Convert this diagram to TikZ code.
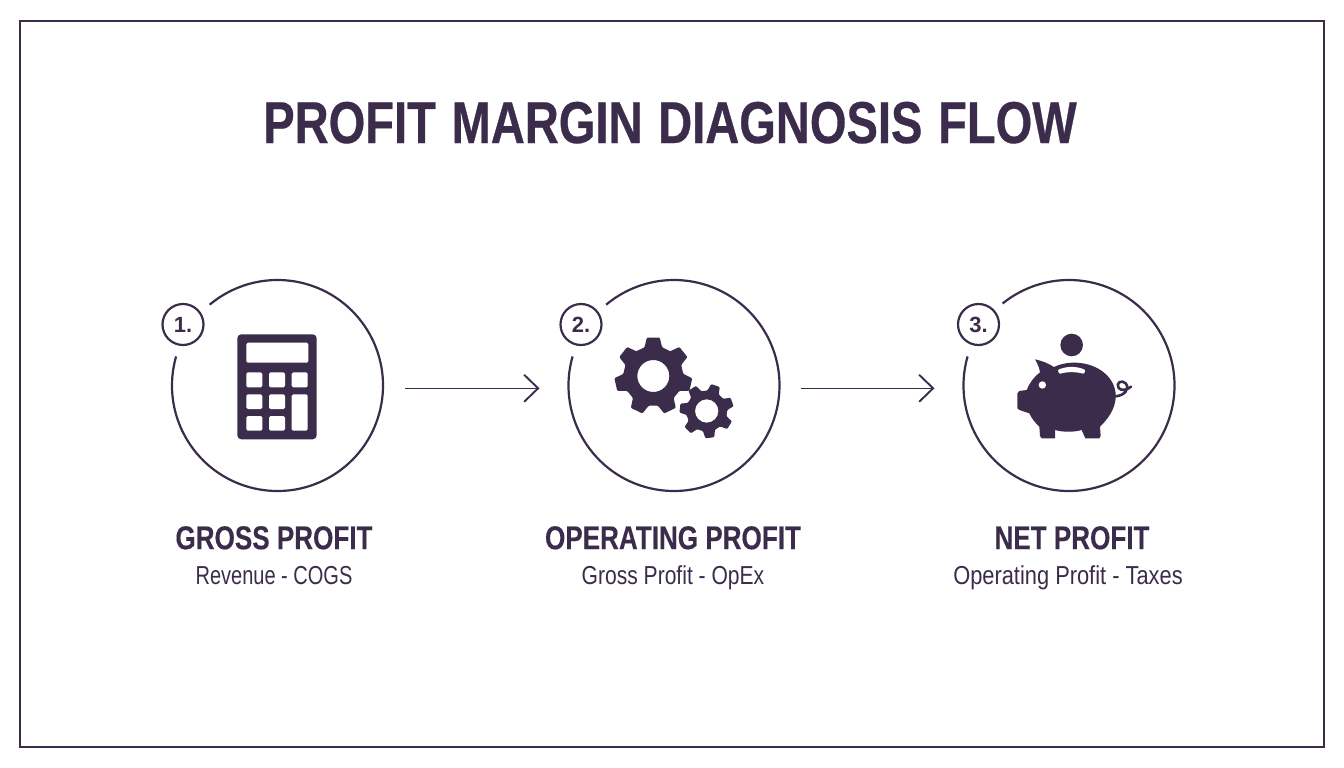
\documentclass[tikz,border=0pt]{standalone}
\usepackage{fontspec}
\setmainfont{Liberation Sans}
\newfontfamily\titleface[FakeStretch=0.798, FakeBold=0.5, WordSpace=1.2]{Liberation Sans Bold}
\newfontfamily\boldface[FakeStretch=0.79, FakeBold=0.2]{Liberation Sans Bold}
\newfontfamily\numberface{Liberation Sans Bold}
\newfontfamily\plainface[FakeStretch=0.77]{Liberation Sans}
\newfontfamily\plainwideface[FakeStretch=0.81]{Liberation Sans}
\newfontfamily\plainwiderface[FakeStretch=0.84]{Liberation Sans}
\usetikzlibrary{arrows.meta, positioning}

\definecolor{ink}{HTML}{3A2C4A}

\tikzset{
  ringnode/.style={circle, minimum size=211pt, inner sep=0pt, outer sep=0pt},
  ringline/.style={draw=ink, line width=2.2pt},
  badge/.style={draw=ink, line width=2.2pt, circle, minimum size=41pt, inner sep=0pt, text=ink,
                font=\numberface\fontsize{22}{22}\selectfont},
  headline/.style={text=ink, inner sep=0pt, text height=24pt, text depth=0pt,
                   font=\boldface\fontsize{33}{33}\selectfont},
  subline/.style={text=ink, inner sep=0pt, text height=19pt, text depth=5pt},
  flow/.style={draw=ink, line width=1.5pt, -{Straight Barb[length=14pt, width=27pt, line width=1.9pt]}},
  key/.style={fill=white, rounded corners=1.5pt},
}

\newcommand{\gearicon}[6]{%
  \begin{scope}[shift={(#1,#2)}]
    \fill [ink, even odd rule, rounded corners=1pt] (#6-17:#4pt)
      \foreach \k in {0,...,6} {
        -- (#6+\k*51.43-17:#4pt) -- (#6+\k*51.43-9.5:#3pt) -- (#6+\k*51.43+9.5:#3pt) -- (#6+\k*51.43+17:#4pt)
      } -- cycle (0,0) circle [radius=#5pt];
  \end{scope}
}

\begin{document}
\begin{tikzpicture}[x=1pt, y=-1pt]

\useasboundingbox (0,0) rectangle (1344,768);
\draw [draw=ink, line width=2.2pt] (20,21) rectangle (1324,747);

\node [anchor=base, text=ink, inner sep=0pt, font=\titleface\fontsize{59}{59}\selectfont] (title) at (670,143) {PROFIT MARGIN DIAGNOSIS FLOW};

\node [ringnode] (ring1) at (277.5,385.5) {};
\node [ringnode] (ring2) at (674,385.5) {};
\node [ringnode] (ring3) at (1069,385.5) {};

\draw [ringline] (ring1.164) arc [start angle=164, end angle=490, radius=105.5pt];
\draw [ringline] (ring2.164) arc [start angle=164, end angle=490, radius=105.5pt];
\draw [ringline] (ring3.164) arc [start angle=164, end angle=489, radius=105.5pt];

\node [badge] (badge1) at (183,324.5) {1.};
\node [badge] (badge2) at (581,324.5) {2.};
\node [badge] (badge3) at (978.5,324.5) {3.};

\draw [flow, shorten <=22pt, shorten >=29pt] ([yshift=-2.8pt]ring1.east) -- ([yshift=-2.8pt]ring2.west);
\draw [flow, shorten <=21pt, shorten >=29pt] ([yshift=-2.8pt]ring2.east) -- ([yshift=-2.8pt]ring3.west);

\node [headline, below=34pt of ring1, xshift=-3.5pt] (gross) {GROSS PROFIT};
\node [subline, below=16pt of gross, font=\plainface\fontsize{26}{26}\selectfont] (grosssub) {Revenue - COGS};
\node [headline, below=34pt of ring2, xshift=-1pt] (operating) {OPERATING PROFIT};
\node [subline, below=16pt of operating, font=\plainwideface\fontsize{26}{26}\selectfont] (operatingsub) {Gross Profit - OpEx};
\node [headline, below=34pt of ring3, xshift=3pt] (net) {NET PROFIT};
\node [subline, below=16pt of net, xshift=-4pt, font=\plainwiderface\fontsize{26}{26}\selectfont] (netsub) {Operating Profit - Taxes};

% calculator
\fill [ink, rounded corners=4pt] (237.3,334.3) rectangle (316.7,439.3);
\fill [key] (246.3,342.7) rectangle (308.3,362.7);
\fill [key] (246.3,372.3) rectangle (262.3,387.3);
\fill [key] (269,372.3) rectangle (285,387.3);
\fill [key] (291.7,372.3) rectangle (307.7,387.3);
\fill [key] (246.3,394.3) rectangle (262.3,409);
\fill [key] (269,394.3) rectangle (285,409);
\fill [key] (291.7,394.3) rectangle (307.7,430.7);
\fill [key] (246.3,416) rectangle (262.3,430.7);
\fill [key] (269,416) rectangle (285,430.7);

% gears
\gearicon{653.3}{376}{39}{30}{16}{90}
\gearicon{706.7}{411}{27.3}{20.5}{11.7}{71}

% piggy bank
\begin{scope}[shift={(1010,330)}, x=0.3333pt, y=-0.3333pt]
  \fill [ink] (185,45) circle [radius=11.3pt];
  \fill [ink] (22,190) -- (28,183) -- (50,180) .. controls (58,160) and (72,140) .. (90,127)
    .. controls (88,112) and (82,100) .. (75,88) .. controls (95,92) and (115,100) .. (132,111)
    .. controls (180,88) and (250,95) .. (290,135) .. controls (330,175) and (328,235) .. (270,290)
    -- (272,318) -- (268,325) -- (226,325) -- (215,300) .. controls (190,307) and (160,307) .. (135,300)
    -- (135,325) -- (95,325) -- (90,318) -- (88,290) .. controls (75,278) and (65,265) .. (58,250)
    -- (28,240) -- (22,235) -- cycle;
  \fill [white] (97,165) circle [radius=3.7pt];
  \fill [white, rounded corners=1pt] (143,120) .. controls (170,108) and (200,108) .. (226,120)
    -- (222,132) .. controls (200,125) and (170,125) .. (148,132) -- cycle;
  \draw [ink, line width=2.6pt, line cap=round] (316,199) .. controls (345,197) and (360,175) .. (347,160)
    .. controls (336,148) and (316,158) .. (326,174) .. controls (334,184) and (352,180) .. (363,170);
\end{scope}

\end{tikzpicture}
\end{document}
